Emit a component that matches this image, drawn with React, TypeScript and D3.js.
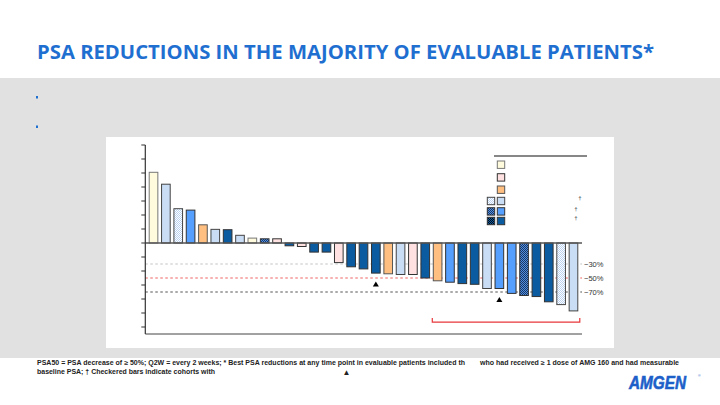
import React from "react";
import * as d3 from "d3";

const values = [101, 84, 49, 47, 26, 19.5, 19, 11, 7, 6, 6, -4, -5, -13, -13, -28, -34, -37, -43, -44, -45, -45, -50, -54, -56, -58, -59, -65, -65, -72, -75, -76.5, -84, -88, -97];
const cohorts = ["Y", "LB", "LBc", "MB", "O", "LB", "DB", "LB", "Y", "MBc", "P", "DB", "P", "DB", "DB", "P", "DB", "DB", "DB", "O", "LB", "P", "DB", "O", "MB", "DB", "DB", "LB", "MB", "MB", "MBc", "DB", "DB", "LBc", "LB"];
const markerBars = [18, 28];
const refLines = [-30, -50, -70];
const refLabels = ["−30%", "−50%", "−70%"];
const refColors = ["#c4c4c4", "#f06060", "#555555"];
const bracketFrom = 23;
const bracketTo = 34;
const bracketValue = -113;
const yTicks = d3.range(-120, 141, 20);
const legendRows = [["Y"], ["P"], ["O"], ["LBc", "LB"], ["MBc", "MB"], ["DBc", "DB"]];
const legendDaggers = ["", "", "", "†", "†", "†"];

const fills: Record<string, string> = {
  Y: "#fffbdc",
  P: "#ffe1e1",
  O: "#ffbf80",
  LB: "#c9ddf5",
  MB: "#559fff",
  DB: "#0b5ba1",
  LBc: "url(#chkL)",
  MBc: "url(#chkM)",
  DBc: "url(#chkD)",
};
const strokes: Record<string, string> = {
  Y: "#777",
  P: "#333",
  O: "#555",
  LB: "#444",
  MB: "#333",
  DB: "#333",
  LBc: "#444",
  MBc: "#333",
  DBc: "#333",
};

export default function App() {
  const W = 720, H = 405;
  const x = d3.scaleBand<number>().domain(d3.range(values.length)).range([145.5, 581.5]).paddingInner(0.3).paddingOuter(0.3);
  const y = d3.scaleLinear().domain([-130, 140]).range([334, 145]);
  const bw = x.bandwidth();
  const axisX = 145.3;
  const lineEnd = 582;
  const legendY = [161, 173.7, 186, 197.3, 207.7, 217.3];

  return (
    <div style={{ position: "absolute", left: 0, top: 0, width: W, height: H }}>
      <svg width={W} height={H} style={{ display: "block" }} fontFamily="'Liberation Sans', Arial, sans-serif">
        <defs>
          <pattern id="chkL" width="2" height="2" patternUnits="userSpaceOnUse">
            <rect width="2" height="2" fill="#ffffff" />
            <rect width="1" height="1" fill="#b9d2f2" />
            <rect x="1" y="1" width="1" height="1" fill="#b9d2f2" />
          </pattern>
          <pattern id="chkM" width="2" height="2" patternUnits="userSpaceOnUse">
            <rect width="2" height="2" fill="#4f8ee0" />
            <rect width="1" height="1" fill="#1a3865" />
            <rect x="1" y="1" width="1" height="1" fill="#1a3865" />
          </pattern>
          <pattern id="chkD" width="2" height="2" patternUnits="userSpaceOnUse">
            <rect width="2" height="2" fill="#0b5ba1" />
            <rect width="1" height="1" fill="#050a14" />
            <rect x="1" y="1" width="1" height="1" fill="#050a14" />
          </pattern>
        </defs>
        <rect width={W} height={H} fill="#ffffff" />
        <text x={37} y={59} fontFamily="'Open Sans', sans-serif" fontWeight={700} fontSize={19} fill="#1f6fd1" textLength={617} lengthAdjust="spacingAndGlyphs">
          PSA REDUCTIONS IN THE MAJORITY OF EVALUABLE PATIENTS*
        </text>
        <rect x={0} y={78} width={W} height={280} fill="#e1e1e1" />
        <rect x={36} y={96} width={2} height={2.5} fill="#1f6fd1" />
        <rect x={36} y={125.5} width={2} height={2.5} fill="#1f6fd1" />
        <rect x={106} y={137} width={508} height={211} fill="#ffffff" />

        {refLines.map((v, i) => (
          <g key={"r" + i}>
            <line x1={axisX} x2={lineEnd} y1={y(v)} y2={y(v)} stroke={refColors[i]} strokeWidth={1.2} strokeDasharray="2.5,2.5" />
            <text x={584} y={y(v)} dy="0.35em" fontSize={7.5} fill="#333">{refLabels[i]}</text>
          </g>
        ))}

        {values.map((v, i) => {
          const top = y(Math.max(0, v));
          const h = Math.abs(y(v) - y(0));
          return (
            <rect key={"b" + i} x={x(i)} y={top} width={bw} height={h} fill={fills[cohorts[i]]} stroke={strokes[cohorts[i]]} strokeWidth={1} />
          );
        })}

        <line x1={axisX} x2={lineEnd} y1={y(0)} y2={y(0)} stroke="#555" strokeWidth={1.3} />
        <line x1={axisX} x2={lineEnd} y1={y(-130)} y2={y(-130)} stroke="#444" strokeWidth={1} />
        <line x1={axisX} x2={axisX} y1={y(140)} y2={y(-130)} stroke="#333" strokeWidth={1.2} />
        {yTicks.map((t) => (
          <line key={"t" + t} x1={axisX - 4} x2={axisX} y1={y(t)} y2={y(t)} stroke="#333" strokeWidth={1} />
        ))}

        {markerBars.map((i) => {
          const cx = (x(i) as number) + bw / 2;
          const cy = y(values[i]) + 11;
          return <path key={"m" + i} d={`M${cx - 3},${cy + 2.5} L${cx + 3},${cy + 2.5} L${cx},${cy - 2.5} Z`} fill="#000" />;
        })}

        {(() => {
          const x0 = (x(bracketFrom) as number) - 1;
          const x1 = (x(bracketTo) as number) + bw + 2;
          const by = y(bracketValue);
          return <path d={`M${x0},${by - 4} V${by} H${x1} V${by - 4}`} fill="none" stroke="#e8373a" strokeWidth={1.2} />;
        })()}

        <line x1={494} x2={587} y1={156} y2={156} stroke="#111" strokeWidth={1.2} />
        {legendRows.map((row, r) => (
          <g key={"l" + r}>
            {row.map((c, j) => {
              const right = j === row.length - 1;
              const lx = right ? 497.3 : 487.3;
              return <rect key={c} x={lx} y={legendY[r]} width={7.4} height={7.4} fill={fills[c]} stroke={strokes[c]} strokeWidth={1} />;
            })}
            {legendDaggers[r] && (
              <text x={r === 3 ? 580 : 576} y={legendY[r] + 3} fontSize={6} fill="#333" textAnchor="middle">{legendDaggers[r]}</text>
            )}
          </g>
        ))}

        <g fontSize={6.4} fontWeight={700} fill="#222">
          <text x={37} y={364.5} textLength={428} lengthAdjust="spacingAndGlyphs">PSA50 = PSA decrease of ≥ 50%; Q2W = every 2 weeks; * Best PSA reductions at any time point in evaluable patients included th</text>
          <text x={480} y={364.5} textLength={199} lengthAdjust="spacingAndGlyphs">who had received ≥ 1 dose of AMG 160 and had measurable</text>
          <text x={37} y={374} textLength={178} lengthAdjust="spacingAndGlyphs">baseline PSA; † Checkered bars indicate cohorts with</text>
          <text x={346.5} y={374.5} fontSize={8} textAnchor="middle">▲</text>
        </g>

        <text x={629} y={389} fontSize={18} fontWeight={900} fontStyle="italic" fill="#1d5fc9" stroke="#1d5fc9" strokeWidth={0.6} textLength={57} lengthAdjust="spacingAndGlyphs" fontFamily="'Liberation Sans', Arial, sans-serif">AMGEN</text>
        <text x={698} y={377} fontSize={3.5} fill="#1d5fc9">®</text>
      </svg>
    </div>
  );
}
